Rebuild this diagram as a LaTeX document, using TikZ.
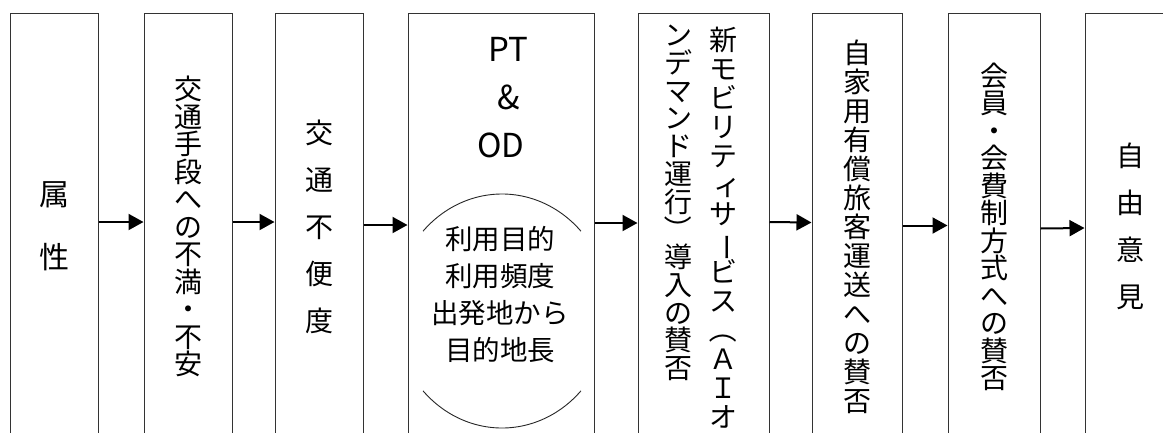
\documentclass[tikz,border=0pt]{standalone}
\usepackage{fontspec}
\setmainfont{Noto Sans CJK JP}
\usetikzlibrary{arrows.meta}
\newcommand{\fs}[2]{\fontsize{#1}{#2}\selectfont\lineskiplimit=-100pt\relax}
\newcommand{\rotch}[1]{\rotatebox[origin=c]{-90}{#1}}
\tikzset{
  box/.style={draw=black!80, line width=1pt, minimum height=427pt, inner sep=0pt, align=center},
  arr/.style={line width=2pt, -{Triangle[length=15pt,width=16pt]}},
  txt/.style={inner sep=0pt, align=center},
  bracket/.style={draw=black!85, line width=0.9pt},
}
\begin{document}
\begin{tikzpicture}[x=1pt,y=-1pt]
\fill[white] (0,0) rectangle (1163,432);
\useasboundingbox (0,0) rectangle (1163,432);

\node[box, minimum width=88pt, font=\fs{30pt}{63pt}] (b1) at (54,226.5) {属\\性};
\node[box, minimum width=88pt, font=\fs{28pt}{27.5pt}] (b2) at (188,226.5)
  {交\\通\\手\\段\\へ\\の\\不\\満\\・\\不\\安};
\node[box, minimum width=88pt, font=\fs{28pt}{47pt}] (b3) at (319,226.5)
  {交\\通\\不\\便\\度};
\node[box, minimum width=186pt] (b4) at (501,226.5) {};
\node[box, minimum width=131pt] (b5) at (703.5,226.5) {};
\node[box, minimum width=90pt, font=\fs{28pt}{29pt}] (b6) at (857,227)
  {自\\家\\用\\有\\償\\旅\\客\\運\\送\\へ\\の\\賛\\否};
\node[box, minimum width=92pt, font=\fs{28pt}{27.5pt}] (b7) at (994,227)
  {会\\員\\・\\会\\費\\制\\方\\式\\へ\\の\\賛\\否};
\node[box, minimum width=90pt, font=\fs{28pt}{47pt}] (b8) at (1130,226.5)
  {自\\由\\意\\見};

% box 4 contents
\node[txt, font=\fs{33pt}{48pt}] (pt) at (501,98) {\hspace*{14pt}PT\\\hspace*{16pt}\&\\OD};
\node[txt, font=\fs{27.5pt}{37pt}] (lst) at (500,294.5)
  {利用目的\\利用頻度\\出発地から\\目的地長};
\coordinate (ell) at (502,311);
\draw[bracket] ([xshift=-79pt,yshift=79.8pt]ell) arc[start angle=137, end angle=43, x radius=108pt, y radius=117pt];
\draw[bracket] ([xshift=-79pt,yshift=-79.8pt]ell) arc[start angle=223, end angle=317, x radius=108pt, y radius=117pt];

% box 5 contents (vertical, right column first)
\node[txt, anchor=north, font=\fs{28pt}{29pt}] (c1) at (723,27)
  {新\\モ\\ビ\\リ\\テ\\\hspace*{8pt}ィ\\サ\\\rotch{ー}\\ビ\\ス\\\rotch{（}\\Ａ\\Ｉ\\オ};
\node[txt, anchor=north, font=\fs{28pt}{27.75pt}] (c2) at (678,25)
  {ン\\デ\\マ\\ン\\ド\\運\\行\\\rotch{）}\\導\\入\\の\\賛\\否};

% arrows
\draw[arr] ([yshift=4.5pt]b1.east) -- ([yshift=4.5pt]b2.west);
\draw[arr] ([yshift=4.5pt]b2.east) -- ([yshift=4.5pt]b3.west);
\draw[arr] ([yshift=1.5pt]b3.east) -- ([yshift=1.5pt]b4.west);
\draw[arr] ([yshift=3.5pt]b4.east) -- ([yshift=3.5pt]b5.west);
\draw[arr] ([yshift=4.5pt]b5.east) -- ([yshift=4.5pt]b6.west);
\draw[arr] ([yshift=1.5pt]b6.east) -- ([yshift=1.5pt]b7.west);
\draw[arr] ([yshift=-1.5pt]b7.east) -- ([yshift=-1.5pt]b8.west);
\end{tikzpicture}
\end{document}
